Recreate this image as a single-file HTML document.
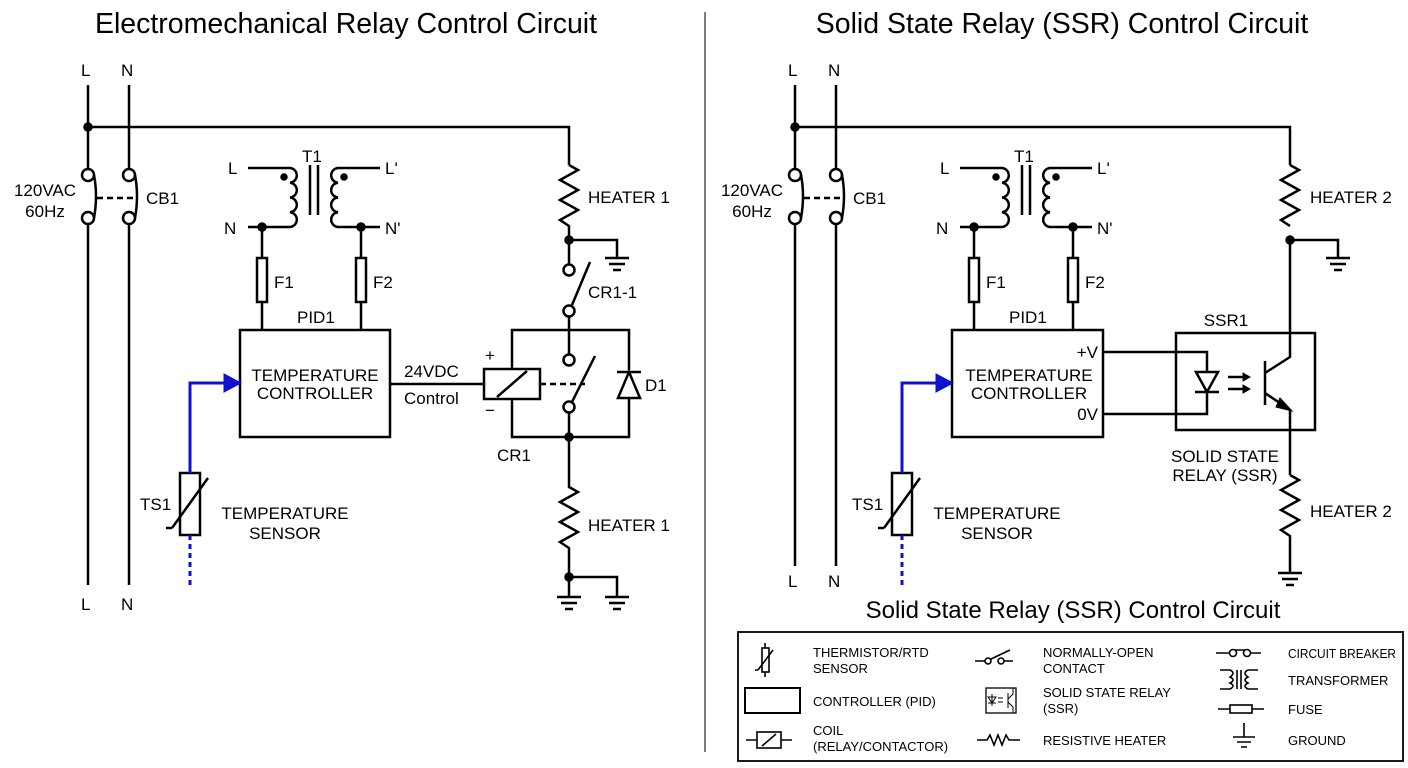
<!DOCTYPE html>
<html><head><meta charset="utf-8"><style>
body{margin:0;background:#fff}
svg{display:block}
text{font-family:"Liberation Sans",Arial,sans-serif;fill:#000}
.l{font-size:17px}
.s{font-size:13px}
</style></head><body>
<svg width="1408" height="768" viewBox="0 0 1408 768" xmlns="http://www.w3.org/2000/svg">
<g stroke="#000" stroke-width="2.5" fill="none">
<line x1="705" y1="12" x2="705" y2="752" stroke="#555" stroke-width="1.5"/>

<!-- ===== LEFT ===== -->
<path d="M88,85 V168 M88,225 V585 M129,85 V168 M129,225 V585"/>
<path d="M88,127 H569 V165"/>
<circle cx="88" cy="127" r="3.5" fill="#000"/>
<circle cx="88" cy="175" r="6" fill="#fff"/><circle cx="88" cy="218" r="6" fill="#fff"/>
<circle cx="129" cy="175" r="6" fill="#fff"/><circle cx="129" cy="218" r="6" fill="#fff"/>
<path d="M94,175 Q98,196 94,218 M135,175 Q139,196 135,218"/>
<line x1="97" y1="198" x2="136" y2="198" stroke-dasharray="6,4"/>
<path d="M248,168 H290 A7.4,7.4 0 0 1 290,182.75 A7.4,7.4 0 0 1 290,197.5 A7.4,7.4 0 0 1 290,212.25 A7.4,7.4 0 0 1 290,227 H248"/>
<path d="M380,168 H338 A7.4,7.4 0 0 0 338,182.75 A7.4,7.4 0 0 0 338,197.5 A7.4,7.4 0 0 0 338,212.25 A7.4,7.4 0 0 0 338,227 H380"/>
<path d="M310,165 V215 M318,165 V215"/>
<circle cx="284" cy="177" r="2.5" fill="#000"/><circle cx="344" cy="177" r="2.5" fill="#000"/>
<circle cx="262" cy="227" r="3.5" fill="#000"/><circle cx="361" cy="227" r="3.5" fill="#000"/>
<path d="M262,227 V330 M361,227 V330"/>
<rect x="257" y="258" width="10" height="44" fill="#fff"/><rect x="356" y="258" width="10" height="44" fill="#fff"/>
<rect x="240" y="330" width="150" height="107"/>
<path d="M390,384 H484"/>
<rect x="484" y="369" width="56" height="30" fill="#fff"/>
<path d="M497,397 L527,371"/>
<path d="M512,369 V330 H629 V370 M512,399 V437 H629 V398"/>
<line x1="540" y1="384" x2="585" y2="384" stroke-dasharray="6,4"/>
<path d="M569,330 V354 M569,413 V437"/>
<circle cx="569" cy="360" r="5.5" fill="#fff"/><circle cx="569" cy="407" r="5.5" fill="#fff"/>
<path d="M572,402 L595,356"/>
<path d="M629,372 L618,398 H640 Z" fill="#fff"/><path d="M617,372 H641"/>
<path d="M569,165 L578,170 L560,180 L578,190 L560,200 L578,210 L560,220 L569,226 V264"/>
<circle cx="569" cy="240" r="3.5" fill="#000"/>
<path d="M569,240 H617 V258 M605,258 H629 M609,264 H625 M613,270 H621"/>
<circle cx="569" cy="270" r="5.5" fill="#fff"/><circle cx="569" cy="311" r="5.5" fill="#fff"/>
<path d="M569,317 V330 M572,305 L590,262"/>
<circle cx="569" cy="437" r="3.5" fill="#000"/>
<path d="M569,437 V487 L578,492 L560,502 L578,512 L560,522 L578,532 L560,542 L569,548 V597"/>
<circle cx="569" cy="577" r="3.5" fill="#000"/>
<path d="M569,577 H617 V597 M557,597 H581 M561,603 H577 M565,609 H573 M605,597 H629 M609,603 H625 M613,609 H621"/>
<rect x="180" y="473" width="20" height="62"/>
<path d="M172,528 L208,478 M172,528 H166"/>
<path d="M190,473 V383 H226" stroke="#1010d0" stroke-width="3"/>
<path d="M224,374 L241,383 L224,392 Z" fill="#1010d0" stroke="#1010d0" stroke-width="1"/>
<path d="M190,535 V585" stroke="#1010d0" stroke-width="3" stroke-dasharray="5,4"/>

<!-- ===== RIGHT ===== -->
<path d="M795,85 V168 M795,225 V566 M836,85 V168 M836,225 V566"/>
<path d="M795,127 H1290 V165"/>
<circle cx="795" cy="127" r="3.5" fill="#000"/>
<circle cx="795" cy="175" r="6" fill="#fff"/><circle cx="795" cy="218" r="6" fill="#fff"/>
<circle cx="836" cy="175" r="6" fill="#fff"/><circle cx="836" cy="218" r="6" fill="#fff"/>
<path d="M801,175 Q805,196 801,218 M842,175 Q846,196 842,218"/>
<line x1="804" y1="198" x2="843" y2="198" stroke-dasharray="6,4"/>
<g transform="translate(712,0)">
<path d="M248,168 H290 A7.4,7.4 0 0 1 290,182.75 A7.4,7.4 0 0 1 290,197.5 A7.4,7.4 0 0 1 290,212.25 A7.4,7.4 0 0 1 290,227 H248"/>
<path d="M380,168 H338 A7.4,7.4 0 0 0 338,182.75 A7.4,7.4 0 0 0 338,197.5 A7.4,7.4 0 0 0 338,212.25 A7.4,7.4 0 0 0 338,227 H380"/>
<path d="M310,165 V215 M318,165 V215"/>
<circle cx="284" cy="177" r="2.5" fill="#000"/><circle cx="344" cy="177" r="2.5" fill="#000"/>
<circle cx="262" cy="227" r="3.5" fill="#000"/><circle cx="361" cy="227" r="3.5" fill="#000"/>
<path d="M262,227 V330 M361,227 V330"/>
<rect x="257" y="258" width="10" height="44" fill="#fff"/><rect x="356" y="258" width="10" height="44" fill="#fff"/>
<rect x="240" y="330" width="151" height="107"/>
<rect x="180" y="473" width="20" height="62"/>
<path d="M172,528 L208,478 M172,528 H166"/>
<path d="M190,473 V383 H226" stroke="#1010d0" stroke-width="3"/>
<path d="M224,374 L241,383 L224,392 Z" fill="#1010d0" stroke="#1010d0" stroke-width="1"/>
<path d="M190,535 V585" stroke="#1010d0" stroke-width="3" stroke-dasharray="5,4"/>
</g>
<rect x="1176" y="333" width="139" height="97"/>
<path d="M1103,352 H1207 V372 M1103,414 H1207 V392"/>
<path d="M1196,372 H1218 L1207,392 Z" fill="#fff"/><path d="M1195,392 H1219"/>
<path d="M1228,377 H1247 M1228,389 H1247"/>
<path d="M1243,373 L1250,377 L1243,381 Z M1243,385 L1250,389 L1243,393 Z" fill="#000" stroke-width="1"/>
<path d="M1265,361 V405 M1265,373 L1290,357 V240 M1265,393 L1290,410 V475"/>
<path d="M1280,398 L1292,411 L1276,407 Z" fill="#000" stroke-width="1"/>
<path d="M1290,165 L1299,170 L1281,180 L1299,190 L1281,200 L1299,210 L1281,220 L1290,226"/>
<circle cx="1290" cy="240" r="3.5" fill="#000"/>
<path d="M1290,240 H1338 V258 M1326,258 H1350 M1330,264 H1346 M1334,270 H1342"/>
<path d="M1290,475 L1299,480 L1281,490 L1299,500 L1281,510 L1299,520 L1281,530 L1290,536 V573 M1278,573 H1302 M1282,579 H1298 M1286,585 H1294"/>

<!-- legend -->
<rect x="738" y="632" width="665" height="129" stroke-width="1.8"/>
<g stroke-width="1.6">
<rect x="762" y="648" width="7" height="24"/><path d="M758,670 L773,650 M758,670 H755 M765,643 V648 M765,672 V677"/>
<rect x="745" y="688" width="55" height="25" stroke-width="2"/>
<path d="M746,740 H757 M781,740 H792"/><rect x="757" y="732" width="24" height="16"/><path d="M762,746 L776,734"/>
<path d="M975,661 H985 M1003,661 H1013 M991,659 L1010,650"/><circle cx="988" cy="661" r="3" fill="#fff"/><circle cx="1001" cy="661" r="3" fill="#fff"/>
<rect x="986" y="688" width="30" height="25" stroke-width="1.3"/>
<path d="M992,694 V706 M988,697 H996 L992,703 Z M988,703 H996 M998,698 H1003 M998,702 H1003 M1008,693 V708 M1008,699 L1013,694 V688 M1008,702 L1013,707 V713" stroke-width="1"/>
<path d="M977,740 H987 L990,735 L994,745 L998,735 L1002,745 L1006,735 L1009,740 H1020"/>
<path d="M1216,653 H1229 M1249,653 H1261 M1233,650 H1247"/><circle cx="1233" cy="653" r="3.5" fill="#fff"/><circle cx="1247" cy="653" r="3.5" fill="#fff"/>
<path d="M1220,670 H1230 Q1236,673 1230,677 Q1236,680 1230,683 Q1236,686 1230,689 H1220 M1258,670 H1248 Q1242,673 1248,677 Q1242,680 1248,683 Q1242,686 1248,689 H1258 M1237,670 V689 M1241,670 V689"/>
<path d="M1218,709 H1230 M1252,709 H1264"/><rect x="1230" y="705" width="22" height="8"/>
<path d="M1244,723 V737 M1233,737 H1255 M1237,742 H1251 M1241,747 H1247"/>
</g>
</g>

<text x="346" y="33" font-size="28.5" text-anchor="middle">Electromechanical Relay Control Circuit</text>
<text x="1062" y="33" font-size="28.5" text-anchor="middle">Solid State Relay (SSR) Control Circuit</text>
<g class="l">
<text x="81" y="76">L</text><text x="121" y="76">N</text>
<text x="81" y="610">L</text><text x="121" y="610">N</text>
<text x="45" y="196" text-anchor="middle">120VAC</text><text x="45" y="217" text-anchor="middle">60Hz</text>
<text x="146" y="204">CB1</text>
<text x="228" y="174">L</text><text x="302" y="162">T1</text><text x="385" y="174">L'</text>
<text x="224" y="234">N</text><text x="385" y="234">N'</text>
<text x="274" y="288">F1</text><text x="373" y="288">F2</text>
<text x="297" y="323">PID1</text>
<text x="315" y="381" text-anchor="middle">TEMPERATURE</text><text x="315" y="399" text-anchor="middle">CONTROLLER</text>
<text x="404" y="377">24VDC</text><text x="404" y="404">Control</text>
<text x="485" y="361">+</text><text x="485" y="416">−</text>
<text x="645" y="391">D1</text>
<text x="497" y="461">CR1</text>
<text x="588" y="298">CR1-1</text>
<text x="588" y="203">HEATER 1</text><text x="588" y="531">HEATER 1</text>
<text x="140" y="510">TS1</text>
<text x="285" y="519" text-anchor="middle">TEMPERATURE</text><text x="285" y="539" text-anchor="middle">SENSOR</text>

<text x="788" y="76">L</text><text x="828" y="76">N</text>
<text x="788" y="587">L</text><text x="828" y="587">N</text>
<text x="752" y="196" text-anchor="middle">120VAC</text><text x="752" y="217" text-anchor="middle">60Hz</text>
<text x="853" y="204">CB1</text>
<text x="940" y="174">L</text><text x="1014" y="162">T1</text><text x="1097" y="174">L'</text>
<text x="936" y="234">N</text><text x="1097" y="234">N'</text>
<text x="986" y="288">F1</text><text x="1085" y="288">F2</text>
<text x="1009" y="323">PID1</text>
<text x="1029" y="381" text-anchor="middle">TEMPERATURE</text><text x="1029" y="399" text-anchor="middle">CONTROLLER</text>
<text x="1098" y="358" text-anchor="end">+V</text><text x="1098" y="420" text-anchor="end">0V</text>
<text x="1226" y="326" text-anchor="middle">SSR1</text>
<text x="1225" y="462" text-anchor="middle">SOLID STATE</text><text x="1225" y="481" text-anchor="middle">RELAY (SSR)</text>
<text x="1310" y="203">HEATER 2</text><text x="1310" y="517">HEATER 2</text>
<text x="852" y="510">TS1</text>
<text x="997" y="519" text-anchor="middle">TEMPERATURE</text><text x="997" y="539" text-anchor="middle">SENSOR</text>
</g>
<text x="1073" y="618" font-size="24" text-anchor="middle">Solid State Relay (SSR) Control Circuit</text>
<g class="s">
<text x="813" y="657">THERMISTOR/RTD</text><text x="813" y="673">SENSOR</text>
<text x="813" y="706">CONTROLLER (PID)</text>
<text x="813" y="735">COIL</text><text x="813" y="751">(RELAY/CONTACTOR)</text>
<text x="1043" y="657">NORMALLY-OPEN</text><text x="1043" y="673">CONTACT</text>
<text x="1043" y="697">SOLID STATE RELAY</text><text x="1043" y="713">(SSR)</text>
<text x="1043" y="745">RESISTIVE HEATER</text>
<text x="1288" y="658" textLength="108" lengthAdjust="spacingAndGlyphs">CIRCUIT BREAKER</text>
<text x="1288" y="685">TRANSFORMER</text>
<text x="1288" y="714">FUSE</text>
<text x="1288" y="745">GROUND</text>
</g>
</svg>
</body></html>
